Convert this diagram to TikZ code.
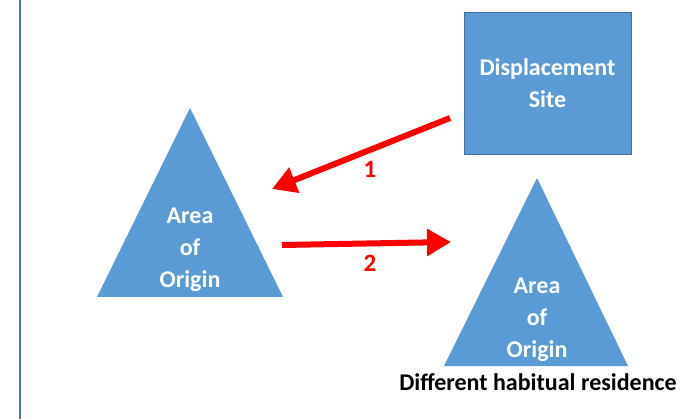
\documentclass[tikz,border=0pt]{standalone}
\usepackage{fontspec}
\setmainfont{Carlito}
\usetikzlibrary{arrows.meta}
\definecolor{boxblue}{HTML}{5B9BD5}
\definecolor{boxedge}{HTML}{41719C}
\definecolor{sideline}{HTML}{4A77AA}
\tikzset{
  shapetext/.style={text=white, font=\bfseries\fontsize{24}{32}\selectfont, align=center},
  redarrow/.style={draw=red, line width=6pt, -{Triangle[length=24pt,width=26pt]}},
  numlabel/.style={text=red, font=\bfseries\fontsize{25}{28}\selectfont},
}
\begin{document}
\begin{tikzpicture}[x=1pt,y=-1pt]
\useasboundingbox (0,0) rectangle (693,419);
\fill[white] (0,0) rectangle (693,419);
% left border line
\draw[sideline, line width=2.2pt] (20,0) -- (20,419);
% displacement site box
\node[draw=boxedge, line width=0.8pt, fill=boxblue, minimum width=167pt, minimum height=142pt, inner sep=0pt, shapetext] (site) at (547.5,83) {Displacement\\Site};
% triangles
\fill[boxblue] (190,108) -- (283,297) -- (97,297) -- cycle;
\fill[boxblue] (537,178) -- (628,366) -- (444,366) -- cycle;
\node[shapetext] (orig1) at (190,250) {Area\\of\\Origin};
\node[shapetext] (orig2) at (537,320) {Area\\of\\Origin};
\node[font=\bfseries\fontsize{24}{26}\selectfont] (res) at (538,382) {Different habitual residence};
% arrows
\coordinate (a1s) at (450,118);
\coordinate (a1e) at (272,189);
\coordinate (a2s) at (282,245);
\coordinate (a2e) at (451,242);
\draw[redarrow] (a1s) -- (a1e);
\draw[redarrow] (a2s) -- (a2e);
\node[numlabel] (n1) at (370,169) {1};
\node[numlabel] (n2) at (370,263) {2};
\end{tikzpicture}
\end{document}
